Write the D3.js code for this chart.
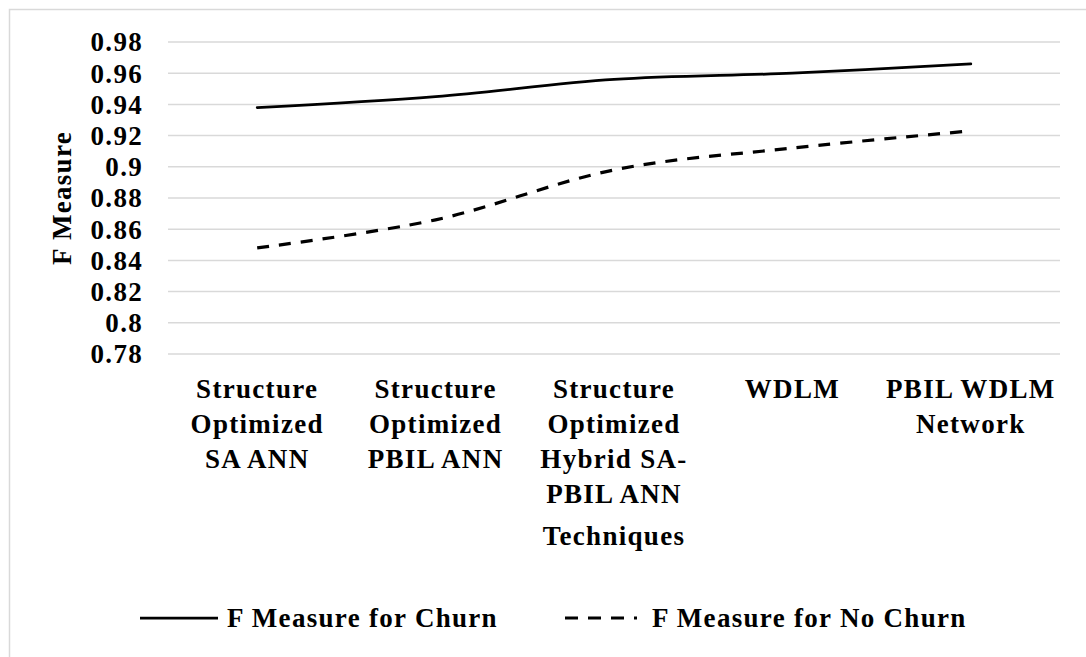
<!DOCTYPE html>
<html>
<head>
<meta charset="utf-8">
<script src="https://cdnjs.cloudflare.com/ajax/libs/d3/7.8.5/d3.min.js"></script>
<style>
  html, body { margin: 0; padding: 0; background: #ffffff; }
  svg { display: block; }
  svg text { font-family: 'Liberation Serif', 'Times New Roman', Times, 'DejaVu Serif', serif !important; font-weight: bold; fill: #000; }
</style>
</head>
<body>
<svg id="chart" width="1086" height="657"></svg>
<script>
// ---- data ----
const categories = [
  "Structure Optimized SA ANN",
  "Structure Optimized PBIL ANN",
  "Structure Optimized Hybrid SA-PBIL ANN",
  "WDLM",
  "PBIL WDLM Network"
];
const categoryLines = [
  ["Structure", "Optimized", "SA ANN"],
  ["Structure", "Optimized", "PBIL ANN"],
  ["Structure", "Optimized", "Hybrid SA-", "PBIL ANN"],
  ["WDLM"],
  ["PBIL WDLM", "Network"]
];
const churn   = [0.938, 0.945, 0.956, 0.960, 0.966];
const noChurn = [0.848, 0.866, 0.898, 0.912, 0.923];
const seriesNames = ["F Measure for Churn", "F Measure for No Churn"];
const yTicks = [0.78, 0.80, 0.82, 0.84, 0.86, 0.88, 0.90, 0.92, 0.94, 0.96, 0.98];
const yTickLabels = ["0.78", "0.8", "0.82", "0.84", "0.86", "0.88", "0.9", "0.92", "0.94", "0.96", "0.98"];
const yTitle = "F Measure";
const xTitle = "Techniques";

// ---- layout ----
const svg = d3.select("#chart");
const mLeft = 168, mRight = 1060, mTop = 42, mBottom = 354;
const LS = "1.3px";
const FS = "27px";

// chart border
svg.append("rect")
  .attr("x", 9.5).attr("y", 9.5)
  .attr("width", 1100).attr("height", 700)
  .attr("fill", "none").attr("stroke", "#d9d9d9").attr("stroke-width", 1.5);

const x = d3.scalePoint().domain(categories).range([mLeft, mRight]).padding(0.5);
const y = d3.scaleLinear().domain([0.78, 0.98]).range([mBottom, mTop]);

// gridlines
svg.append("g").selectAll("line").data(yTicks).join("line")
  .attr("x1", mLeft).attr("x2", mRight)
  .attr("y1", d => y(d)).attr("y2", d => y(d))
  .attr("stroke", "#d9d9d9").attr("stroke-width", 1.5);

// y axis labels via d3 axis
const yAxis = d3.axisLeft(y).tickValues(yTicks)
  .tickFormat((d, i) => yTickLabels[i]).tickSize(0).tickPadding(0);
const gy = svg.append("g").attr("transform", `translate(${mLeft - 25},0)`).call(yAxis);
gy.attr("font-family", null).attr("font-size", null);
gy.select(".domain").remove();
gy.selectAll("text")
  .style("font-size", FS)
  .attr("dy", "0.33em")
  .style("letter-spacing", LS);

// y title
svg.append("text")
  .attr("transform", `translate(71,${(mTop + mBottom) / 2}) rotate(-90)`)
  .attr("text-anchor", "middle")
  .style("font-size", FS)
  .style("letter-spacing", LS)
  .text(yTitle);

// x category labels
const gx = svg.append("g");
categories.forEach((c, i) => {
  const t = gx.append("text")
    .attr("text-anchor", "middle")
    .style("font-size", FS)
    .style("letter-spacing", LS);
  categoryLines[i].forEach((ln, j) => {
    t.append("tspan").attr("x", x(c)).attr("y", 398 + j * 35).text(ln);
  });
});

// x title
svg.append("text")
  .attr("x", (mLeft + mRight) / 2).attr("y", 545)
  .attr("text-anchor", "middle")
  .style("font-size", FS)
  .style("letter-spacing", LS)
  .text(xTitle);

// lines
const line = d3.line()
  .x((d, i) => x(categories[i]))
  .y(d => y(d))
  .curve(d3.curveCatmullRom.alpha(0.5));

svg.append("path").datum(churn)
  .attr("d", line)
  .attr("fill", "none").attr("stroke", "#000").attr("stroke-width", 2.75)
  .attr("stroke-linecap", "round");

svg.append("path").datum(noChurn)
  .attr("d", line)
  .attr("fill", "none").attr("stroke", "#000").attr("stroke-width", 3.2)
  .attr("stroke-dasharray", "12,10");

// legend
const lg = svg.append("g");
lg.append("line").attr("x1", 140).attr("x2", 218).attr("y1", 618).attr("y2", 618)
  .attr("stroke", "#000").attr("stroke-width", 2.75);
lg.append("text").attr("x", 227).attr("y", 627)
  .style("font-size", FS).style("letter-spacing", LS).text(seriesNames[0]);
lg.append("line").attr("x1", 565).attr("x2", 637).attr("y1", 618).attr("y2", 618)
  .attr("stroke", "#000").attr("stroke-width", 3.2)
  .attr("stroke-dasharray", "13,10");
lg.append("text").attr("x", 652).attr("y", 627)
  .style("font-size", FS).style("letter-spacing", LS).text(seriesNames[1]);
</script>
</body>
</html>
